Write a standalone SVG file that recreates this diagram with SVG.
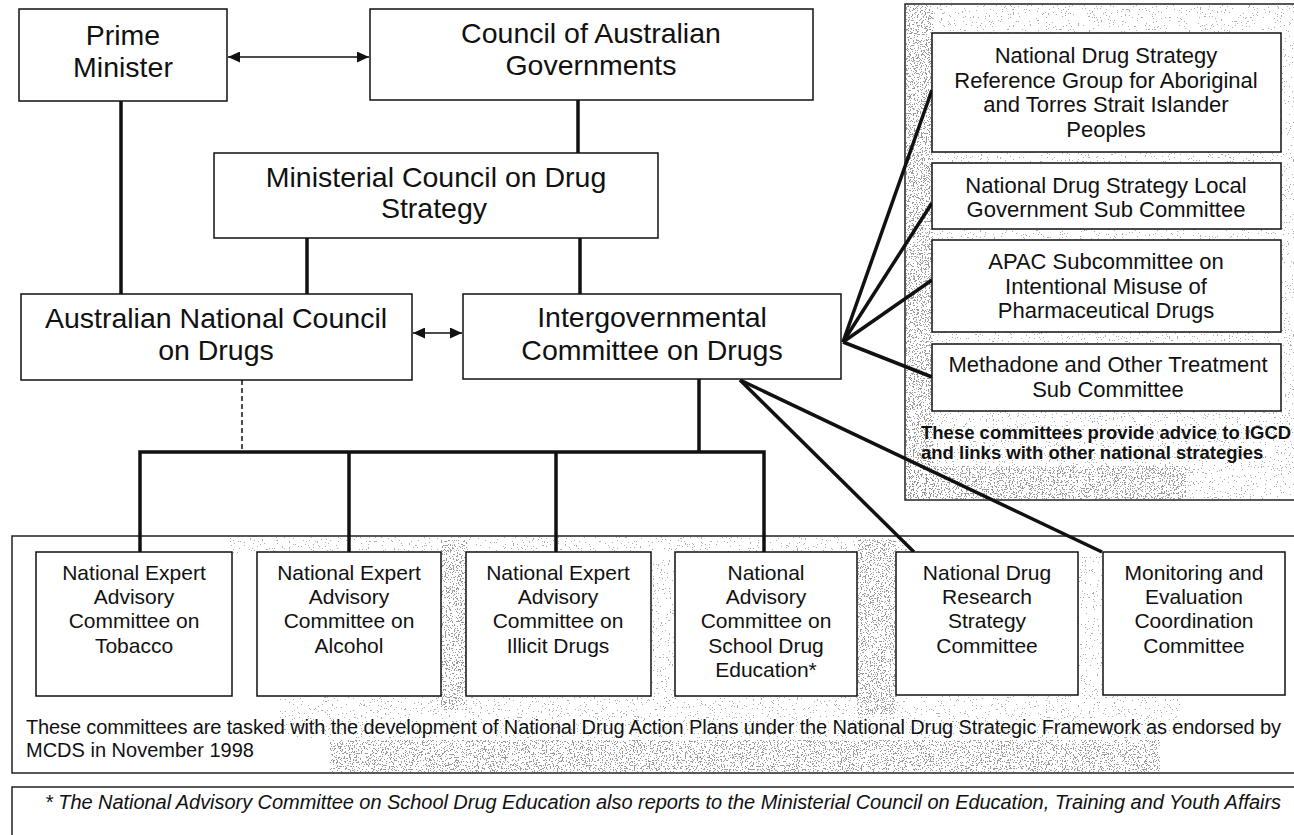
<svg xmlns="http://www.w3.org/2000/svg" width="1294" height="835" viewBox="0 0 1294 835">
<style>
.box{fill:#fff;stroke:#111;stroke-width:1.5}
.frame{fill:#fff;stroke:#222;stroke-width:1.5}
.big{font-family:"Liberation Sans",Arial,sans-serif;font-size:28.5px;fill:#111;text-anchor:middle}
.mid{font-family:"Liberation Sans",Arial,sans-serif;font-size:22px;fill:#111;text-anchor:middle}
.sm{font-family:"Liberation Sans",Arial,sans-serif;font-size:21px;fill:#111;text-anchor:middle}
.note{font-family:"Liberation Sans",Arial,sans-serif;font-size:20px;fill:#111}
.noteb{font-family:"Liberation Sans",Arial,sans-serif;font-size:18.5px;font-weight:bold;fill:#111}
.notei{font-family:"Liberation Sans",Arial,sans-serif;font-size:20px;font-style:italic;fill:#111}
.thick{stroke:#111;stroke-width:3.5;fill:none}
.thin{stroke:#111;stroke-width:1.5;fill:none}
.dash{stroke:#111;stroke-width:1.5;stroke-dasharray:5 3;fill:none}
</style>
<defs>
<marker id="ah" viewBox="0 0 12 11" refX="12" refY="5.5" markerWidth="12" markerHeight="11" markerUnits="userSpaceOnUse" orient="auto-start-reverse">
<path d="M0,0 L12,5.5 L0,11 z" fill="#111"/>
</marker>
<filter id="stL" x="0" y="0" width="1" height="1">
<feTurbulence type="fractalNoise" baseFrequency="0.75" numOctaves="2" seed="4"/>
<feColorMatrix type="matrix" values="0 0 0 0 0.3  0 0 0 0 0.3  0 0 0 0 0.3  1 0 0 0 0"/>
<feComponentTransfer><feFuncA type="discrete" tableValues="0 0 0 0 0 0 0 0 0 0 0 0 0 0 0.75 0.75 0.75 0.75 0.75 0.75"/></feComponentTransfer>
</filter>
<filter id="stD" x="0" y="0" width="1" height="1">
<feTurbulence type="fractalNoise" baseFrequency="0.75" numOctaves="2" seed="9"/>
<feColorMatrix type="matrix" values="0 0 0 0 0.25  0 0 0 0 0.25  0 0 0 0 0.25  1 0 0 0 0"/>
<feComponentTransfer><feFuncA type="discrete" tableValues="0 0 0 0 0 0 0 0 0 0 0 0 0.85 0.85 0.85 0.85 0.85 0.85 0.85 0.85"/></feComponentTransfer>
</filter>
</defs>

<!-- right advisory panel background -->
<g id="panel-right">
<rect class="frame" x="905" y="4" width="395" height="496"/>
<rect x="906" y="5" width="390" height="494" fill="#fff" filter="url(#stL)"/>
<rect x="906" y="5" width="27" height="494" fill="#fff" filter="url(#stD)"/>
<rect x="906" y="466" width="280" height="33" fill="#fff" filter="url(#stD)"/>
<text class="noteb" x="921" y="439">These committees provide advice to IGCD</text>
<text class="noteb" x="921" y="459">and links with other national strategies</text>
</g>

<!-- bottom committee frame background -->
<g id="panel-bottom">
<rect class="frame" x="12" y="536" width="1290" height="237"/>
<rect x="230" y="537" width="680" height="16" fill="#fff" filter="url(#stL)"/>
<rect x="441" y="540" width="26" height="170" fill="#fff" filter="url(#stD)"/>
<rect x="651" y="560" width="24" height="150" fill="#fff" filter="url(#stL)"/>
<rect x="857" y="540" width="39" height="175" fill="#fff" filter="url(#stD)"/>
<rect x="1078" y="555" width="25" height="150" fill="#fff" filter="url(#stL)"/>
<rect x="280" y="696" width="900" height="42" fill="#fff" filter="url(#stL)"/>
<rect x="330" y="740" width="830" height="32" fill="#fff" filter="url(#stD)"/>
<text class="note" x="26" y="734" textLength="1255" lengthAdjust="spacing">These committees are tasked with the development of National Drug Action Plans under the National Drug Strategic Framework as endorsed by</text>
<text class="note" x="26" y="757">MCDS in November 1998</text>
</g>

<g id="footnote">
<rect class="frame" x="12" y="787" width="1290" height="60"/>
<text class="notei" x="45" y="809" textLength="1236" lengthAdjust="spacing">* The National Advisory Committee on School Drug Education also reports to the Ministerial Council on Education, Training and Youth Affairs</text>
</g>

<!-- connectors -->
<g id="connectors">
<line class="thin" x1="228" y1="57" x2="369" y2="57" marker-start="url(#ah)" marker-end="url(#ah)"/>
<line class="thin" x1="413" y1="333" x2="462" y2="333" marker-start="url(#ah)" marker-end="url(#ah)"/>
<line class="thick" x1="121" y1="101" x2="121" y2="294"/>
<line class="thick" x1="578" y1="100" x2="578" y2="153"/>
<line class="thick" x1="307" y1="238" x2="307" y2="294"/>
<line class="thick" x1="580" y1="238" x2="580" y2="294"/>
<line class="dash" x1="242" y1="380" x2="242" y2="452"/>
<line class="thick" x1="699" y1="379" x2="699" y2="452"/>
<polyline class="thick" points="140,552 140,452 764,452 764,552"/>
<line class="thick" x1="349" y1="452" x2="349" y2="552"/>
<line class="thick" x1="556" y1="452" x2="556" y2="552"/>
<line class="thick" x1="740" y1="380" x2="914" y2="552"/>
<line class="thick" x1="740" y1="380" x2="1102" y2="552"/>
<line class="thick" x1="843" y1="342" x2="932" y2="90"/>
<line class="thick" x1="843" y1="342" x2="932" y2="203"/>
<line class="thick" x1="843" y1="342" x2="932" y2="280"/>
<line class="thick" x1="843" y1="342" x2="932" y2="377"/>
</g>

<g id="prime-minister">
<rect class="box" x="19" y="9" width="208" height="92"/>
<text class="big" x="123" y="45">Prime</text>
<text class="big" x="123" y="77">Minister</text>
</g>
<g id="coag">
<rect class="box" x="370" y="9" width="443" height="91"/>
<text class="big" x="591" y="43">Council of Australian</text>
<text class="big" x="591" y="75">Governments</text>
</g>
<g id="mcds">
<rect class="box" x="214" y="153" width="444" height="85"/>
<text class="big" x="436" y="187">Ministerial Council on Drug</text>
<text class="big" x="434" y="218">Strategy</text>
</g>
<g id="ancd">
<rect class="box" x="21" y="294" width="391" height="86"/>
<text class="big" x="216" y="328">Australian National Council</text>
<text class="big" x="216" y="360">on Drugs</text>
</g>
<g id="igcd">
<rect class="box" x="463" y="294" width="378" height="85"/>
<text class="big" x="652" y="327">Intergovernmental</text>
<text class="big" x="652" y="360">Committee on Drugs</text>
</g>

<g id="nds-atsi">
<rect class="box" x="932" y="33" width="349" height="119"/>
<text class="mid" x="1106" y="63">National Drug Strategy</text>
<text class="mid" x="1106" y="88">Reference Group for Aboriginal</text>
<text class="mid" x="1106" y="112">and Torres Strait Islander</text>
<text class="mid" x="1106" y="137">Peoples</text>
</g>
<g id="nds-localgov">
<rect class="box" x="932" y="163" width="349" height="66"/>
<text class="mid" x="1106" y="193">National Drug Strategy Local</text>
<text class="mid" x="1106" y="217">Government Sub Committee</text>
</g>
<g id="apac">
<rect class="box" x="932" y="240" width="349" height="92"/>
<text class="mid" x="1106" y="269">APAC Subcommittee on</text>
<text class="mid" x="1106" y="294">Intentional Misuse of</text>
<text class="mid" x="1106" y="318">Pharmaceutical Drugs</text>
</g>
<g id="methadone">
<rect class="box" x="932" y="344" width="349" height="67"/>
<text class="mid" x="1108" y="372">Methadone and Other Treatment</text>
<text class="mid" x="1108" y="397">Sub Committee</text>
</g>

<g id="neac-tobacco">
<rect class="box" x="36" y="552" width="196" height="144"/>
<text class="sm" x="134" y="580">National Expert</text>
<text class="sm" x="134" y="604">Advisory</text>
<text class="sm" x="134" y="628">Committee on</text>
<text class="sm" x="134" y="653">Tobacco</text>
</g>
<g id="neac-alcohol">
<rect class="box" x="257" y="552" width="184" height="144"/>
<text class="sm" x="349" y="580">National Expert</text>
<text class="sm" x="349" y="604">Advisory</text>
<text class="sm" x="349" y="628">Committee on</text>
<text class="sm" x="349" y="653">Alcohol</text>
</g>
<g id="neac-illicit">
<rect class="box" x="466" y="552" width="185" height="144"/>
<text class="sm" x="558" y="580">National Expert</text>
<text class="sm" x="558" y="604">Advisory</text>
<text class="sm" x="558" y="628">Committee on</text>
<text class="sm" x="558" y="653">Illicit Drugs</text>
</g>
<g id="nacsde">
<rect class="box" x="675" y="552" width="182" height="144"/>
<text class="sm" x="766" y="580">National</text>
<text class="sm" x="766" y="604">Advisory</text>
<text class="sm" x="766" y="628">Committee on</text>
<text class="sm" x="766" y="653">School Drug</text>
<text class="sm" x="766" y="677">Education*</text>
</g>
<g id="ndrsc">
<rect class="box" x="896" y="552" width="182" height="143"/>
<text class="sm" x="987" y="580">National Drug</text>
<text class="sm" x="987" y="604">Research</text>
<text class="sm" x="987" y="628">Strategy</text>
<text class="sm" x="987" y="653">Committee</text>
</g>
<g id="mecc">
<rect class="box" x="1103" y="552" width="182" height="143"/>
<text class="sm" x="1194" y="580">Monitoring and</text>
<text class="sm" x="1194" y="604">Evaluation</text>
<text class="sm" x="1194" y="628">Coordination</text>
<text class="sm" x="1194" y="653">Committee</text>
</g>
</svg>
